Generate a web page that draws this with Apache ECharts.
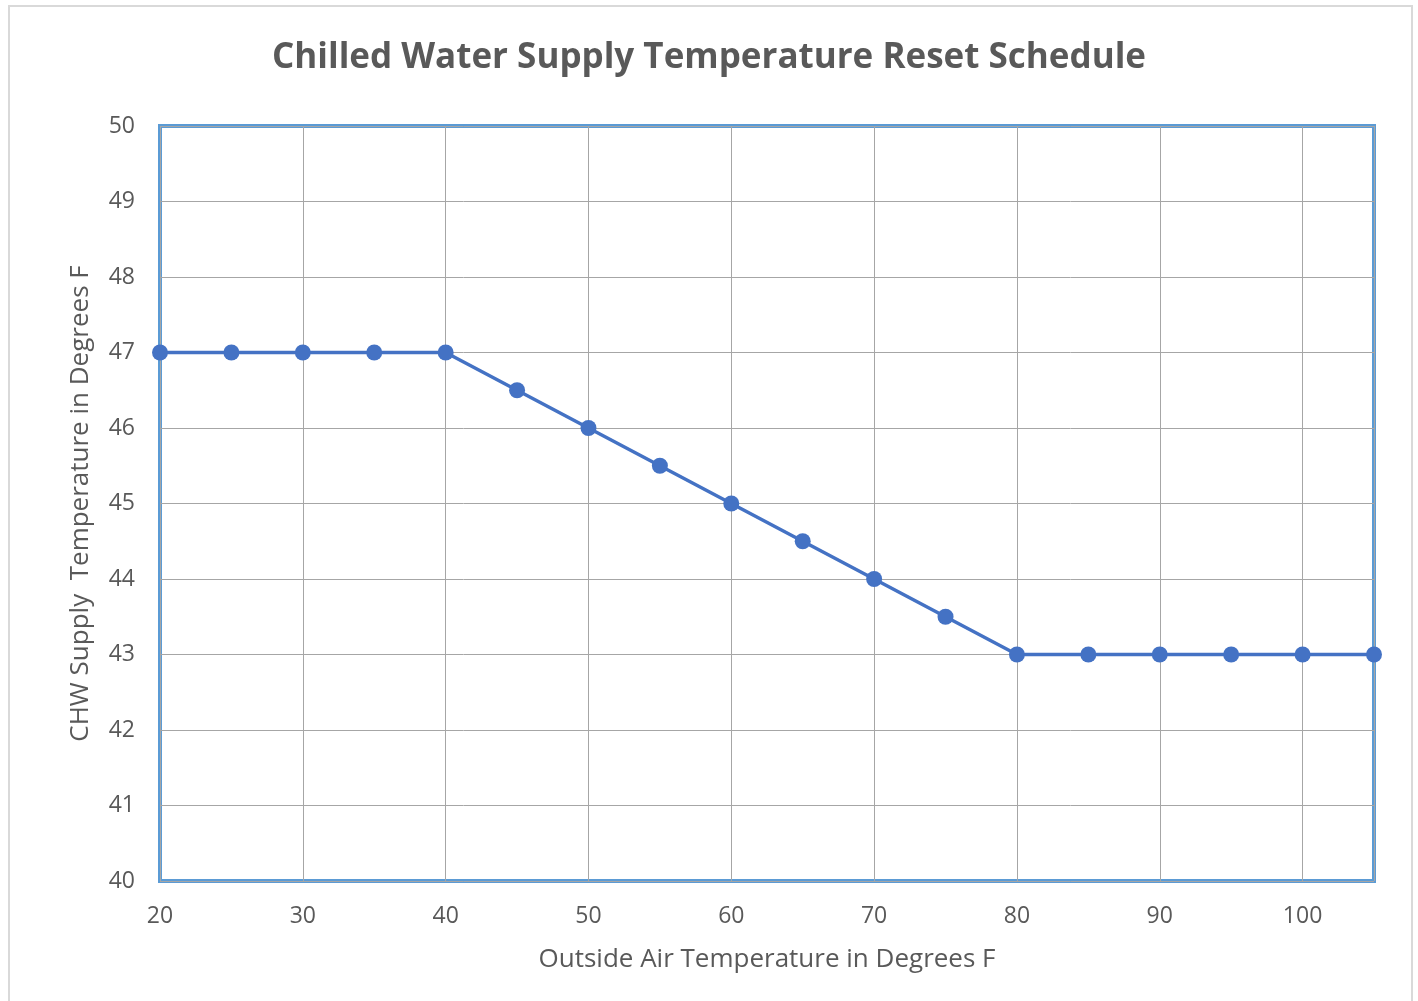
<!DOCTYPE html>
<html>
<head>
    <meta charset="utf-8">
    <title>CHW Reset Schedule</title>
    <script src="https://cdn.jsdelivr.net/npm/echarts@6/dist/echarts.min.js"></script>
    <style>
        html, body { margin: 0; padding: 0; background: #fff; }
        #chart { width: 1418px; height: 1001px; }
    </style>
</head>
<body>
<div id="chart"></div>
<script type="text/javascript">
    // outside air temp (F) vs chilled water supply temp (F)
    const oat = [20, 25, 30, 35, 40, 45, 50, 55, 60, 65, 70, 75, 80, 85, 90, 95, 100, 105];
    const chws = [47, 47, 47, 47, 47, 46.5, 46, 45.5, 45, 44.5, 44, 43.5, 43, 43, 43, 43, 43, 43];

    const font = 'Open Sans';
    const chart = echarts.init(document.getElementById('chart'));

    const option = {
        animation: false,
        backgroundColor: '#fff',
        graphic: [{
            type: 'rect',
            shape: {x: 9, y: 6, width: 1403, height: 1000},
            style: {fill: 'none', stroke: '#d9d9d9', lineWidth: 2},
            silent: true
        }],
        title: {
            text: 'Chilled Water Supply Temperature Reset Schedule',
            left: 'center',
            top: 36,
            textStyle: {fontFamily: font, fontSize: 35, fontWeight: 'bold', color: '#595959'}
        },
        grid: {
            left: 160,
            right: 44,
            top: 126,
            bottom: 120,
            show: true,
            borderColor: '#5b9bd5',
            borderWidth: 4
        },
        xAxis: {
            type: 'value',
            min: 20,
            max: 105,
            interval: 10,
            name: 'Outside Air Temperature in Degrees F',
            nameLocation: 'middle',
            nameGap: 66,
            nameTextStyle: {fontFamily: font, fontSize: 26, color: '#595959'},
            axisLine: {show: false},
            axisTick: {show: false},
            axisLabel: {
                margin: 24,
                fontFamily: font, fontSize: 23, color: '#595959',
                formatter: function (v) { return v === 105 ? '' : v; }
            },
            splitLine: {lineStyle: {color: '#a6a6a6', width: 1}}
        },
        yAxis: {
            type: 'value',
            min: 40,
            max: 50,
            interval: 1,
            name: 'CHW Supply  Temperature in Degrees F',
            nameLocation: 'middle',
            nameGap: 66,
            nameTextStyle: {fontFamily: font, fontSize: 26, color: '#595959'},
            axisLine: {show: false},
            axisTick: {show: false},
            axisLabel: {margin: 25, fontFamily: font, fontSize: 23, color: '#595959'},
            splitLine: {lineStyle: {color: '#a6a6a6', width: 1}}
        },
        series: [{
            type: 'line',
            data: oat.map(function (x, i) { return [x, chws[i]]; }),
            symbol: 'circle',
            symbolSize: 16,
            itemStyle: {color: '#4472c4'},
            lineStyle: {color: '#4472c4', width: 3.5},
            clip: false
        }]
    };
    chart.setOption(option);
</script>
</body>
</html>
